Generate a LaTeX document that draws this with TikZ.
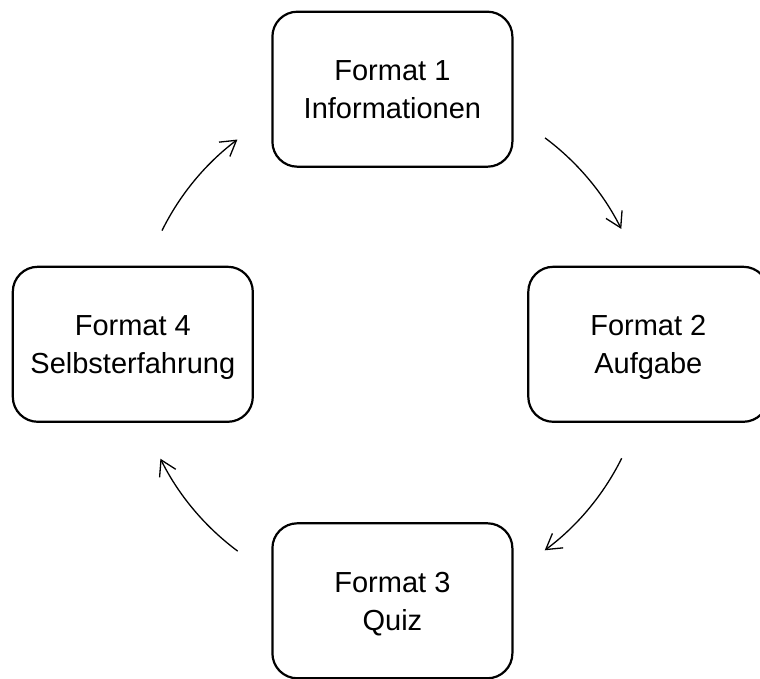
\documentclass[tikz,border=0pt]{standalone}
\usepackage{fontspec}
\setmainfont{Liberation Sans}
\usetikzlibrary{arrows.meta}
\newcommand{\toplift}{\rule{0pt}{27pt}}
\newcommand{\botdrop}{\vphantom{g}}
\begin{document}
\begin{tikzpicture}[x=1pt,y=1pt,
  box/.style={draw=black, line width=2.2pt, rounded corners=25pt,
    minimum width=240pt, minimum height=155pt, inner sep=0pt,
    align=center, font=\fontsize{29}{38}\selectfont},
  cyc/.style={draw=black, line width=1.3pt,
    -{Straight Barb[length=15pt,width=18pt]}}]
\useasboundingbox (0,0) rectangle (760,678);
\clip (0,0) rectangle (760,678);
\coordinate (ctr) at (391.5,334);
\node[box] (f1) at (392.4,588.8) {\toplift Format 1\\Informationen\botdrop};
\node[box] (f2) at (648.3,333.7) {\toplift Format 2\\Aufgabe\botdrop};
\node[box] (f3) at (392.4,77.2) {\toplift Format 3\\Quiz\botdrop};
\node[box] (f4) at (132.8,333.7) {\toplift Format 4\\Selbsterfahrung\botdrop};
\draw[cyc] ([shift={(53.3:257)}]ctr) arc[start angle=53.3, end angle=26.6, radius=257];
\draw[cyc] ([shift={(-26.4:257)}]ctr) arc[start angle=-26.4, end angle=-53.4, radius=257];
\draw[cyc] ([shift={(233.4:258)}]ctr) arc[start angle=233.4, end angle=206.4, radius=258];
\draw[cyc] ([shift={(153.7:256)}]ctr) arc[start angle=153.7, end angle=127, radius=256];
\end{tikzpicture}
\end{document}
